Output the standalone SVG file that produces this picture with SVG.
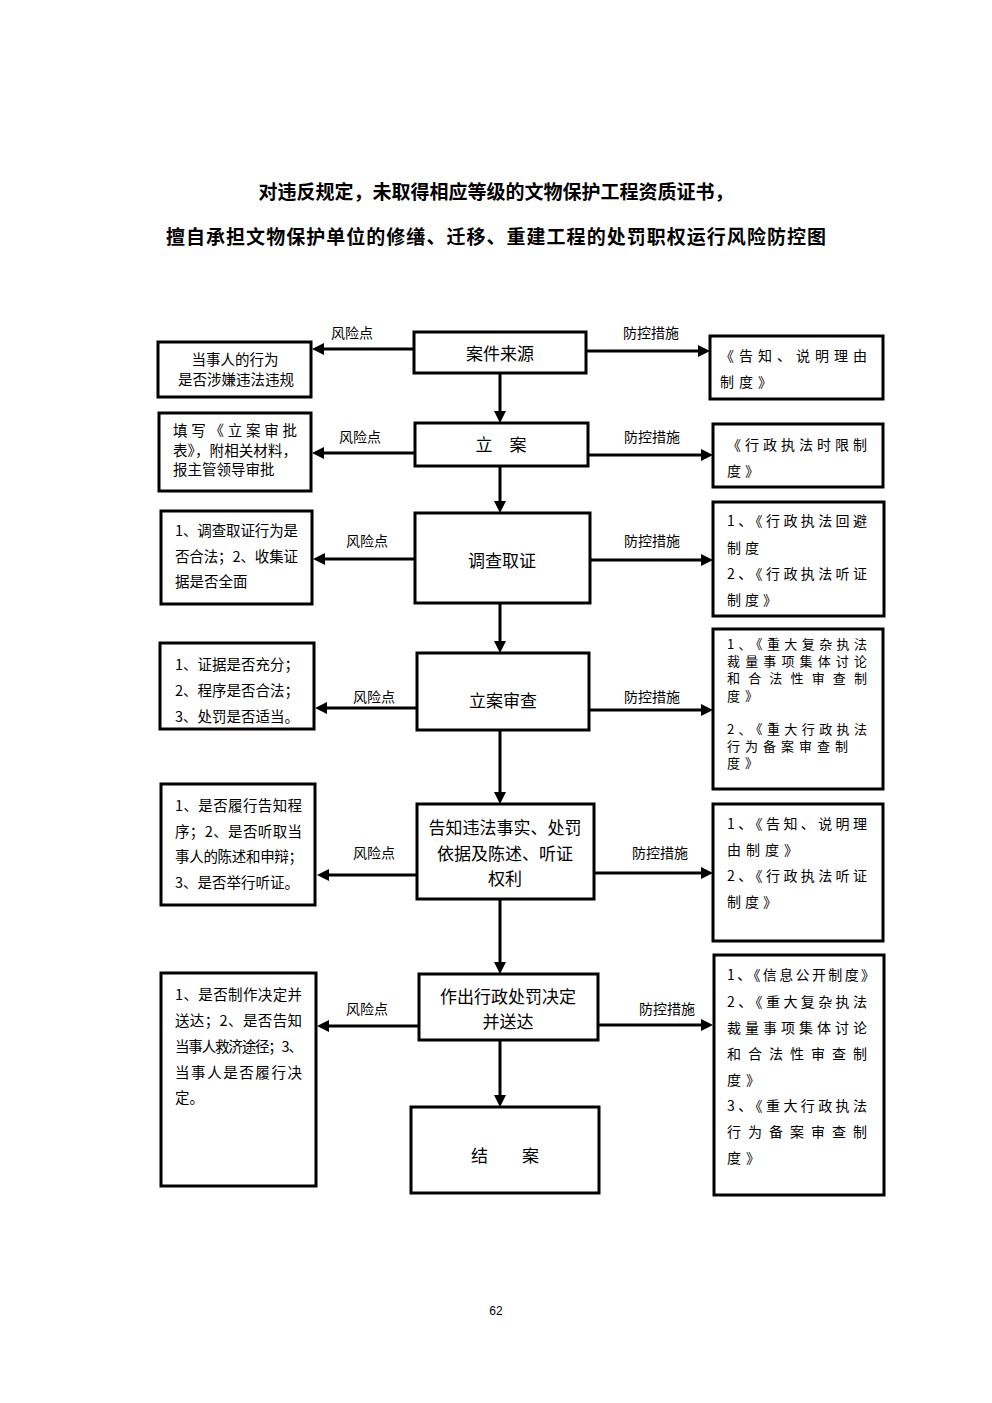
<svg xmlns="http://www.w3.org/2000/svg" width="992" height="1403" viewBox="0 0 992 1403">
<style>
text{font-family:"Noto Sans CJK SC","Noto Sans",sans-serif;fill:#000;dominant-baseline:central}
.title{font-size:19px;font-weight:bold;text-anchor:middle}
.box{fill:#fff;stroke:#000;stroke-width:3}
.c{font-size:17px;text-anchor:middle}
.l{font-size:14.5px}
.r{font-size:14px}
.rs{font-size:13px}
.lab{font-size:14px;text-anchor:middle}
.ln{stroke:#000;stroke-width:3;fill:none;marker-end:url(#ah)}
.pg{font-family:"Liberation Sans",Arial,sans-serif;font-size:12px;text-anchor:middle}
</style>
<defs>
<marker id="ah" markerUnits="userSpaceOnUse" markerWidth="12" markerHeight="12" refX="0" refY="6" orient="auto">
<path d="M0,0 L12,6 L0,12 z" fill="#000"/>
</marker>
</defs>
<rect width="992" height="1403" fill="#fff"/>
<text class="title" x="496" y="190">对违反规定，未取得相应等级的文物保护工程资质证书，</text>
<text class="title" x="496" y="235" textLength="660" lengthAdjust="spacing">擅自承担文物保护单位的修缮、迁移、重建工程的处罚职权运行风险防控图</text>

<g id="connectors">
<line class="ln" x1="500" y1="373" x2="500" y2="411"/>
<line class="ln" x1="500" y1="466" x2="500" y2="501"/>
<line class="ln" x1="500" y1="603" x2="500" y2="641"/>
<line class="ln" x1="500" y1="730" x2="500" y2="792"/>
<line class="ln" x1="500" y1="899" x2="500" y2="962"/>
<line class="ln" x1="500" y1="1040" x2="500" y2="1095"/>
<line class="ln" x1="414" y1="349" x2="324" y2="349"/>
<line class="ln" x1="415" y1="453" x2="324" y2="453"/>
<line class="ln" x1="415" y1="559" x2="325" y2="559"/>
<line class="ln" x1="417" y1="708" x2="327" y2="708"/>
<line class="ln" x1="417" y1="875" x2="329" y2="875"/>
<line class="ln" x1="419" y1="1026" x2="329" y2="1026"/>
<line class="ln" x1="586" y1="351" x2="698" y2="351"/>
<line class="ln" x1="588" y1="455" x2="701" y2="455"/>
<line class="ln" x1="590" y1="560" x2="701" y2="560"/>
<line class="ln" x1="589" y1="710" x2="701" y2="710"/>
<line class="ln" x1="594" y1="873" x2="701" y2="873"/>
<line class="ln" x1="598" y1="1025" x2="701" y2="1025"/>
<text class="lab" x="352" y="332">风险点</text>
<text class="lab" x="360" y="436">风险点</text>
<text class="lab" x="367" y="540">风险点</text>
<text class="lab" x="374" y="696">风险点</text>
<text class="lab" x="374" y="852">风险点</text>
<text class="lab" x="367" y="1008">风险点</text>
<text class="lab" x="651" y="332">防控措施</text>
<text class="lab" x="652" y="436">防控措施</text>
<text class="lab" x="652" y="540">防控措施</text>
<text class="lab" x="652" y="696">防控措施</text>
<text class="lab" x="660" y="852">防控措施</text>
<text class="lab" x="667" y="1008">防控措施</text>
</g>

<g id="n1">
<rect class="box" x="414" y="332" width="172" height="41"/>
<text class="c" x="500" y="352">案件来源</text>
</g>
<g id="n2">
<rect class="box" x="415" y="423" width="173" height="43"/>
<text class="c" x="501" y="443">立　案</text>
</g>
<g id="n3">
<rect class="box" x="415" y="513" width="175" height="90"/>
<text class="c" x="502" y="559">调查取证</text>
</g>
<g id="n4">
<rect class="box" x="417" y="653" width="172" height="77"/>
<text class="c" x="503" y="699">立案审查</text>
</g>
<g id="n5">
<rect class="box" x="417" y="804" width="177" height="95"/>
<text class="c" x="505" y="826">告知违法事实、处罚</text>
<text class="c" x="505" y="852">依据及陈述、听证</text>
<text class="c" x="505" y="877">权利</text>
</g>
<g id="n6">
<rect class="box" x="419" y="974" width="179" height="66"/>
<text class="c" x="508" y="995">作出行政处罚决定</text>
<text class="c" x="508" y="1020">并送达</text>
</g>
<g id="n7">
<rect class="box" x="411" y="1107" width="188" height="86"/>
<text class="c" x="505" y="1154">结　　案</text>
</g>

<g id="risk1">
<rect class="box" x="158" y="342" width="153" height="55"/>
<text class="l" x="235" y="358" text-anchor="middle">当事人的行为</text>
<text class="l" x="236" y="378" text-anchor="middle">是否涉嫌违法违规</text>
</g>
<g id="risk2">
<rect class="box" x="159" y="413" width="152" height="78"/>
<text class="l" x="173" y="429" textLength="124" lengthAdjust="spacing">填写《立案审批</text>
<text class="l" x="173" y="449" textLength="124" lengthAdjust="spacing">表》，附相关材料，</text>
<text class="l" x="173" y="468">报主管领导审批</text>
</g>
<g id="risk3">
<rect class="box" x="161" y="511" width="151" height="93"/>
<text class="l" x="175" y="529" textLength="123" lengthAdjust="spacing">1、调查取证行为是</text>
<text class="l" x="175" y="555" textLength="123" lengthAdjust="spacing">否合法；2、收集证</text>
<text class="l" x="175" y="580">据是否全面</text>
</g>
<g id="risk4">
<rect class="box" x="160" y="643" width="154" height="86"/>
<text class="l" x="175" y="663">1、证据是否充分；</text>
<text class="l" x="175" y="689">2、程序是否合法；</text>
<text class="l" x="175" y="715">3、处罚是否适当。</text>
</g>
<g id="risk5">
<rect class="box" x="161" y="784" width="154" height="121"/>
<text class="l" x="175" y="804" textLength="127" lengthAdjust="spacing">1、是否履行告知程</text>
<text class="l" x="175" y="830" textLength="127" lengthAdjust="spacing">序；2、是否听取当</text>
<text class="l" x="175" y="855" textLength="128" lengthAdjust="spacing">事人的陈述和申辩；</text>
<text class="l" x="175" y="881">3、是否举行听证。</text>
</g>
<g id="risk6">
<rect class="box" x="161" y="973" width="155" height="213"/>
<text class="l" x="175" y="993" textLength="127" lengthAdjust="spacing">1、是否制作决定并</text>
<text class="l" x="175" y="1019" textLength="127" lengthAdjust="spacing">送达；2、是否告知</text>
<text class="l" x="175" y="1045" textLength="128" lengthAdjust="spacing">当事人救济途径；3、</text>
<text class="l" x="175" y="1071" textLength="127" lengthAdjust="spacing">当事人是否履行决</text>
<text class="l" x="175" y="1096">定。</text>
</g>

<g id="ctrl1">
<rect class="box" x="710" y="336" width="173" height="63"/>
<text class="r" x="720" y="355" textLength="147" lengthAdjust="spacing">《告知、说明理由</text>
<text class="r" x="720" y="381" letter-spacing="5">制度》</text>
</g>
<g id="ctrl2">
<rect class="box" x="713" y="424" width="170" height="63"/>
<text class="r" x="727" y="444" textLength="140" lengthAdjust="spacing">《行政执法时限制</text>
<text class="r" x="727" y="470" letter-spacing="4">度》</text>
</g>
<g id="ctrl3">
<rect class="box" x="713" y="502" width="171" height="114"/>
<text class="r" x="727" y="520" textLength="140" lengthAdjust="spacing">1、《行政执法回避</text>
<text class="r" x="727" y="547" letter-spacing="4">制度</text>
<text class="r" x="727" y="573" textLength="140" lengthAdjust="spacing">2、《行政执法听证</text>
<text class="r" x="727" y="599" letter-spacing="4">制度》</text>
</g>
<g id="ctrl4">
<rect class="box" x="713" y="629" width="170" height="160"/>
<text class="rs" x="727" y="643" textLength="140" lengthAdjust="spacing">1、《重大复杂执法</text>
<text class="rs" x="727" y="660" textLength="140" lengthAdjust="spacing">裁量事项集体讨论</text>
<text class="rs" x="727" y="677" textLength="140" lengthAdjust="spacing">和合法性审查制</text>
<text class="rs" x="727" y="695" letter-spacing="5">度》</text>
<text class="rs" x="727" y="728" textLength="140" lengthAdjust="spacing">2、《重大行政执法</text>
<text class="rs" x="727" y="745" textLength="121" lengthAdjust="spacing">行为备案审查制</text>
<text class="rs" x="727" y="762" letter-spacing="5">度》</text>
</g>
<g id="ctrl5">
<rect class="box" x="713" y="804" width="170" height="137"/>
<text class="r" x="727" y="823" textLength="140" lengthAdjust="spacing">1、《告知、说明理</text>
<text class="r" x="727" y="849" letter-spacing="5">由制度》</text>
<text class="r" x="727" y="875" textLength="140" lengthAdjust="spacing">2、《行政执法听证</text>
<text class="r" x="727" y="901" letter-spacing="4">制度》</text>
</g>
<g id="ctrl6">
<rect class="box" x="714" y="955" width="170" height="240"/>
<text class="r" x="727" y="974" textLength="148" lengthAdjust="spacing">1、《信息公开制度》</text>
<text class="r" x="727" y="1001" textLength="140" lengthAdjust="spacing">2、《重大复杂执法</text>
<text class="r" x="727" y="1027" textLength="140" lengthAdjust="spacing">裁量事项集体讨论</text>
<text class="r" x="727" y="1053" textLength="140" lengthAdjust="spacing">和合法性审查制</text>
<text class="r" x="727" y="1079" letter-spacing="5">度》</text>
<text class="r" x="727" y="1105" textLength="140" lengthAdjust="spacing">3、《重大行政执法</text>
<text class="r" x="727" y="1131" textLength="140" lengthAdjust="spacing">行为备案审查制</text>
<text class="r" x="727" y="1157" letter-spacing="5">度》</text>
</g>

<text class="pg" x="496" y="1311">62</text>
</svg>
